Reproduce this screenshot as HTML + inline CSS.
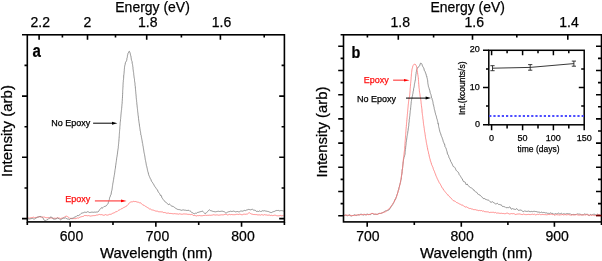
<!DOCTYPE html>
<html><head><meta charset="utf-8">
<style>
html,body{margin:0;padding:0;background:#fff;}
body{width:602px;height:261px;overflow:hidden;position:relative;}
svg{position:absolute;left:0;top:0;will-change:transform;}
text{font-family:"Liberation Sans",sans-serif;stroke:currentColor;stroke-width:0.25px;}
</style></head><body>
<svg width="602" height="261" viewBox="0 0 602 261">
<g fill="none" stroke-linejoin="round">
<!-- Panel a curves -->
<path d="M27.5 217.9L28.2 217.9L28.9 218.1L29.6 218.1L30.3 217.9L31.0 217.8L31.7 217.6L32.4 217.5L33.1 217.2L33.8 217.3L34.5 217.7L35.2 217.7L35.9 217.3L36.6 217.4L37.3 217.3L38.0 217.0L38.7 216.8L39.4 216.7L40.1 216.8L40.8 217.2L41.5 217.3L42.1 216.9L42.8 217.0L43.5 217.1L44.2 217.1L44.9 217.2L45.6 217.6L46.3 217.7L47.0 217.8L47.7 217.7L48.4 217.5L49.1 217.9L49.8 218.3L50.5 218.0L51.2 217.9L51.9 218.1L52.6 218.2L53.3 218.3L54.0 218.2L54.7 218.2L55.4 218.3L56.1 218.3L56.8 218.1L57.5 217.8L58.2 217.9L58.9 218.1L59.6 218.2L60.3 218.5L61.0 218.4L61.7 218.2L62.4 218.0L63.1 218.0L63.7 217.7L64.3 217.3L64.9 217.0L65.4 216.4L66.0 216.2L66.6 216.2L67.3 216.5L67.9 216.9L68.5 217.2L69.0 217.7L69.6 218.3L70.1 218.4L70.8 218.4L71.4 218.3L72.1 218.4L72.8 218.8L73.5 218.6L74.3 218.6L75.0 218.6L75.7 218.6L76.4 218.4L77.2 217.9L77.9 218.0L78.5 218.1L79.2 217.6L79.9 217.3L80.5 217.0L81.2 216.8L81.9 216.6L82.5 216.5L83.2 216.5L83.9 215.9L84.6 215.5L85.2 215.6L85.9 215.5L86.6 215.6L87.3 215.8L88.0 215.7L88.7 215.6L89.4 215.8L90.1 216.0L90.8 216.1L91.5 215.9L92.2 215.8L92.9 215.7L93.6 215.6L94.3 215.6L95.0 215.6L95.7 215.4L96.4 215.1L97.1 215.0L97.8 215.0L98.5 214.7L99.1 214.4L99.8 214.5L100.5 214.7L101.2 214.6L101.9 214.7L102.6 214.9L103.3 215.2L104.0 215.3L104.7 215.0L105.4 214.6L106.1 214.8L106.8 215.1L107.5 215.1L108.2 214.9L108.9 214.7L109.6 214.3L110.2 214.3L110.9 214.3L111.6 214.0L112.2 213.6L112.8 213.2L113.5 213.0L114.1 212.8L114.8 212.5L115.4 212.0L116.0 211.7L116.7 211.6L117.3 211.4L117.9 210.8L118.5 210.3L119.1 210.0L119.7 209.9L120.3 209.5L121.0 208.8L121.6 208.8L122.1 208.7L122.7 208.2L123.3 207.8L123.9 207.5L124.6 207.2L125.2 206.8L125.8 206.5L126.4 206.2L127.0 205.8L127.5 205.2L128.0 204.7L128.5 204.1L129.0 203.2L129.4 202.8L129.9 202.5L130.5 202.1L131.1 201.9L131.8 201.8L132.5 201.8L133.2 201.4L133.9 201.4L134.6 201.6L135.3 201.5L136.0 201.5L136.7 201.9L137.3 202.1L138.0 202.1L138.6 202.3L139.3 202.7L139.9 202.9L140.5 202.8L141.1 203.2L141.7 203.9L142.3 204.5L142.9 205.1L143.5 205.1L144.1 205.3L144.7 205.9L145.3 206.3L145.9 206.5L146.5 206.9L147.1 207.3L147.7 207.7L148.3 208.0L149.0 208.5L149.6 209.0L150.2 208.9L150.9 209.3L151.5 209.8L152.2 209.9L152.8 210.1L153.5 210.2L154.2 210.5L154.8 210.7L155.5 211.0L156.2 211.2L156.8 211.1L157.5 211.2L158.2 211.6L158.9 211.8L159.6 211.8L160.3 211.8L161.0 211.9L161.7 211.9L162.4 211.9L163.0 212.4L163.7 212.6L164.4 212.5L165.1 212.6L165.8 212.8L166.5 213.2L167.2 213.2L167.9 213.1L168.6 213.1L169.3 213.4L170.0 213.7L170.7 213.4L171.4 213.5L172.1 213.7L172.8 213.7L173.5 213.8L174.2 213.7L174.9 213.6L175.6 213.8L176.3 213.9L177.0 213.8L177.7 214.0L178.4 214.2L179.1 213.9L179.8 213.8L180.5 214.0L181.2 214.2L181.9 214.2L182.6 214.2L183.3 214.0L184.0 213.8L184.7 214.0L185.4 214.0L186.1 214.2L186.8 214.0L187.5 214.3L188.2 214.5L188.9 214.2L189.6 214.4L190.2 214.6L190.9 214.6L191.6 214.4L192.3 214.5L192.9 215.3L193.6 215.5L194.3 215.5L194.9 215.4L195.6 215.7L196.3 216.0L197.0 215.7L197.7 215.6L198.4 215.7L199.1 215.6L199.8 215.5L200.5 215.7L201.2 215.7L201.9 215.8L202.6 215.7L203.3 215.5L204.0 215.5L204.7 215.4L205.4 215.2L206.1 215.4L206.8 215.4L207.5 215.3L208.2 215.4L208.9 215.2L209.6 215.2L210.3 215.3L211.0 215.2L211.7 215.2L212.4 215.1L213.1 214.7L213.8 214.8L214.5 214.9L215.2 215.0L215.9 215.1L216.6 214.9L217.3 214.9L218.0 215.1L218.7 215.2L219.4 215.1L220.1 215.0L220.8 214.9L221.5 214.8L222.2 214.9L222.9 214.8L223.6 214.8L224.3 214.6L225.0 214.4L225.7 214.3L226.4 214.4L227.1 214.8L227.8 215.0L228.5 214.7L229.2 214.3L229.9 214.5L230.6 214.7L231.3 214.5L232.0 214.5L232.7 214.7L233.4 214.7L234.1 214.7L234.8 214.7L235.5 214.6L236.2 214.4L236.9 214.3L237.6 214.3L238.3 214.5L239.0 214.4L239.7 214.1L240.4 214.3L241.1 214.6L241.8 214.7L242.5 214.7L243.2 214.4L243.9 214.1L244.6 214.2L245.3 214.3L246.0 214.1L246.7 214.1L247.3 214.1L247.9 213.6L248.5 213.1L249.1 212.9L249.7 212.8L250.2 213.2L250.8 213.8L251.5 214.0L252.1 214.2L252.8 214.3L253.5 214.5L254.2 214.6L254.9 214.4L255.6 214.6L256.3 214.6L257.0 214.6L257.7 214.9L258.4 214.9L259.1 214.8L259.8 214.9L260.5 215.1L261.2 214.8L261.9 214.5L262.6 214.9L263.3 215.2L264.0 214.8L264.7 214.6L265.4 214.9L266.1 214.9L266.8 215.0L267.5 215.2L268.2 215.2L268.9 215.1L269.6 215.1L270.3 215.5L271.0 215.4L271.7 215.3L272.4 215.6L273.1 215.5L273.8 215.4L274.5 215.2L275.2 215.2L275.9 215.4L276.6 215.7L277.3 215.8L278.0 215.8L278.7 215.8L279.4 215.7L280.1 215.4L280.8 215.5L281.4 215.8L282.1 215.8L282.8 215.6L283.5 215.5" stroke="#f77" stroke-width="0.85"/>
<path d="M27.5 219.5L28.2 219.0L28.9 218.7L29.6 219.0L30.3 218.8L31.0 218.8L31.7 218.5L32.4 218.4L33.1 218.6L33.8 219.1L34.5 219.2L35.2 218.4L35.8 218.1L36.5 217.8L37.2 217.3L37.9 217.0L38.6 217.0L39.2 216.7L39.8 216.6L40.4 216.5L41.0 216.3L41.6 216.9L42.1 217.4L42.6 217.7L43.1 218.2L43.6 219.1L44.1 220.1L44.6 220.5L45.1 220.4L45.7 220.6L46.3 220.3L46.9 219.7L47.5 219.6L48.1 219.3L48.7 218.6L49.4 218.2L50.0 217.3L50.6 217.1L51.2 217.4L51.8 217.2L52.5 217.8L53.1 218.8L53.7 219.1L54.3 219.1L54.9 219.2L55.5 219.0L56.1 218.8L56.7 218.5L57.3 218.0L57.9 218.1L58.5 218.5L59.1 218.7L59.7 219.3L60.3 219.8L60.9 219.6L61.6 219.1L62.2 218.9L62.9 218.2L63.6 218.0L64.3 218.3L64.9 217.8L65.6 217.9L66.2 218.3L66.9 218.8L67.5 219.0L68.2 218.9L68.8 219.3L69.5 219.6L70.2 218.9L70.8 218.4L71.5 218.6L72.2 218.3L72.8 218.2L73.5 217.9L74.1 217.4L74.8 217.1L75.4 216.9L76.0 216.8L76.6 216.1L77.2 215.5L77.9 215.6L78.5 215.6L79.1 215.1L79.7 214.8L80.3 214.4L80.9 213.7L81.6 213.2L82.2 212.9L82.8 213.0L83.5 212.7L84.2 212.2L84.9 212.3L85.6 212.3L86.3 212.4L87.0 212.1L87.6 211.7L88.4 211.9L89.1 212.4L89.8 212.5L90.5 212.4L91.2 212.2L91.9 212.2L92.6 212.2L93.3 212.3L94.0 212.2L94.7 212.1L95.3 212.2L96.0 212.1L96.7 212.0L97.4 212.0L98.0 211.9L98.6 211.4L99.2 210.4L99.7 209.6L100.1 209.3L100.6 208.8L101.1 208.0L101.6 207.7L102.3 208.1L103.0 207.5L103.6 206.9L104.2 206.6L104.8 206.4L105.4 206.2L105.9 206.2L106.5 205.6L107.0 204.8L107.4 204.4L107.8 204.0L108.1 203.5L108.3 202.7L108.6 201.7L108.8 200.8L109.0 200.2L109.2 199.8L109.4 199.4L109.5 198.4L109.7 197.5L110.0 197.0L110.3 196.3L110.5 195.4L110.8 195.0L111.0 194.9L111.1 194.1L111.3 192.9L111.4 192.0L111.6 191.2L111.7 190.8L111.8 190.5L112.0 189.7L112.1 189.0L112.2 188.3L112.3 187.6L112.4 186.6L112.5 185.8L112.6 185.4L112.7 184.6L112.8 183.8L112.9 183.1L113.1 182.4L113.2 182.0L113.3 181.3L113.4 180.5L113.5 180.0L113.6 179.4L113.7 178.9L113.8 177.7L114.0 176.9L114.1 176.5L114.2 175.7L114.3 175.2L114.4 174.7L114.5 174.0L114.6 173.2L114.7 172.6L114.8 171.8L114.9 170.8L115.0 170.3L115.1 169.6L115.2 169.1L115.3 168.7L115.4 168.0L115.5 167.1L115.6 166.0L115.7 165.3L115.8 164.8L115.9 164.0L116.0 163.2L116.1 162.6L116.2 162.2L116.3 161.4L116.4 160.6L116.5 159.9L116.6 158.8L116.7 158.1L116.8 157.4L116.9 156.9L117.0 156.6L117.1 155.9L117.2 155.1L117.3 154.7L117.4 153.9L117.5 153.0L117.6 152.2L117.7 151.2L117.8 150.6L117.9 149.9L118.0 149.2L118.1 148.8L118.2 148.2L118.3 147.5L118.3 146.5L118.4 145.9L118.5 145.2L118.5 144.4L118.6 143.8L118.7 143.1L118.7 142.4L118.8 141.6L118.9 140.9L118.9 140.0L119.0 139.3L119.0 138.7L119.1 138.3L119.1 138.0L119.2 136.8L119.2 135.9L119.3 135.5L119.3 134.6L119.4 134.0L119.4 133.4L119.5 132.3L119.5 131.6L119.6 131.2L119.6 130.6L119.7 129.7L119.7 129.1L119.8 128.7L119.8 127.7L119.9 126.8L119.9 126.3L120.0 125.6L120.0 125.2L120.1 124.6L120.1 123.5L120.2 122.6L120.3 122.1L120.3 121.9L120.4 121.2L120.5 120.1L120.5 119.5L120.6 118.8L120.7 118.4L120.7 117.6L120.8 116.7L120.9 116.1L120.9 115.4L121.0 114.4L121.1 113.9L121.1 113.4L121.2 112.4L121.3 111.6L121.4 110.8L121.4 110.3L121.5 109.9L121.6 109.3L121.6 108.6L121.7 107.9L121.8 107.0L121.8 106.3L121.9 105.7L121.9 104.9L122.0 104.2L122.1 103.7L122.1 103.0L122.2 102.0L122.2 101.4L122.3 101.1L122.3 100.2L122.3 99.1L122.4 98.5L122.4 98.0L122.5 97.0L122.5 96.2L122.5 96.0L122.6 95.1L122.6 94.4L122.6 94.0L122.7 92.9L122.7 92.2L122.7 91.3L122.7 90.4L122.8 90.3L122.8 89.6L122.8 88.9L122.9 88.3L122.9 87.5L123.0 86.8L123.0 85.5L123.0 84.7L123.1 84.5L123.1 83.7L123.2 82.7L123.2 82.3L123.3 81.7L123.3 80.6L123.4 79.9L123.5 79.7L123.5 79.0L123.6 78.3L123.6 78.0L123.7 77.1L123.7 76.0L123.8 75.0L123.9 74.5L123.9 74.2L124.0 73.6L124.1 72.8L124.1 72.0L124.2 71.2L124.3 70.5L124.3 69.7L124.4 68.8L124.5 67.9L124.5 67.3L124.6 66.7L124.7 66.0L124.8 65.6L124.9 65.0L125.0 64.8L125.2 64.3L125.3 63.0L125.6 62.3L125.9 61.9L126.3 61.0L126.6 60.5L126.8 59.8L126.9 58.4L127.0 58.0L127.2 57.7L127.3 57.2L127.4 56.4L127.5 55.3L127.7 55.0L127.8 54.3L128.0 53.4L128.3 53.0L128.7 52.2L129.0 51.4L129.3 51.3L129.6 51.9L129.9 52.5L130.2 53.3L130.4 54.3L130.6 55.3L130.7 55.8L130.9 55.9L131.0 56.8L131.1 57.6L131.2 58.2L131.3 59.0L131.4 59.8L131.6 60.4L131.7 60.8L131.9 61.2L132.1 61.7L132.2 63.1L132.3 63.8L132.4 64.1L132.6 64.7L132.7 65.6L132.8 66.6L132.9 67.0L133.0 67.7L133.0 68.7L133.1 69.4L133.2 69.9L133.3 70.8L133.4 71.7L133.5 72.1L133.6 72.6L133.7 73.3L133.7 74.2L133.8 74.9L133.9 75.6L134.0 76.5L134.1 77.2L134.2 77.9L134.3 78.4L134.4 78.6L134.5 79.4L134.5 80.5L134.6 81.2L134.7 81.9L134.8 82.4L134.9 83.0L135.0 83.6L135.0 84.6L135.1 85.5L135.2 85.8L135.3 86.3L135.3 87.0L135.4 88.2L135.5 89.0L135.5 89.3L135.6 90.2L135.7 91.3L135.7 91.9L135.8 92.5L135.8 93.2L135.9 93.9L136.0 94.5L136.0 95.0L136.1 95.8L136.2 96.7L136.2 97.5L136.3 97.8L136.3 98.2L136.4 99.4L136.5 100.0L136.6 100.6L136.6 101.4L136.7 102.2L136.8 102.6L136.8 103.2L136.9 104.2L137.0 105.1L137.1 105.7L137.1 106.1L137.2 106.9L137.3 107.7L137.3 108.2L137.4 108.5L137.5 109.4L137.6 110.1L137.6 110.7L137.7 111.6L137.8 112.5L137.9 113.0L138.0 113.7L138.0 114.3L138.1 114.9L138.2 115.7L138.3 116.1L138.4 117.1L138.4 118.0L138.5 118.4L138.6 119.1L138.7 120.0L138.8 120.8L138.9 121.4L139.0 122.3L139.1 122.9L139.2 123.3L139.3 124.0L139.4 125.0L139.5 125.9L139.6 126.7L139.7 127.2L139.8 127.6L139.9 128.5L140.0 129.1L140.1 129.8L140.2 130.7L140.3 131.1L140.5 131.7L140.6 132.4L140.7 133.4L140.8 134.6L140.9 135.0L141.1 135.2L141.2 135.5L141.3 136.3L141.4 137.3L141.6 137.8L141.7 138.6L141.8 139.2L141.9 139.7L142.1 140.7L142.2 141.2L142.3 142.1L142.4 143.2L142.6 143.4L142.7 143.7L142.8 144.7L142.9 145.7L143.0 146.0L143.2 146.7L143.3 147.6L143.4 148.3L143.5 149.1L143.7 149.9L143.8 150.8L143.9 151.6L144.0 152.1L144.1 152.8L144.3 153.6L144.4 154.2L144.5 154.4L144.6 155.2L144.8 156.1L144.9 156.9L145.0 157.6L145.1 158.1L145.2 158.8L145.3 159.7L145.5 160.4L145.6 160.7L145.7 161.4L145.8 162.1L146.0 162.8L146.1 163.5L146.2 164.2L146.4 165.3L146.5 165.8L146.7 166.2L146.8 166.9L147.0 167.7L147.1 168.2L147.3 168.7L147.4 169.6L147.6 170.5L147.7 171.2L147.9 171.7L148.1 172.2L148.3 173.0L148.5 174.1L148.7 174.7L148.9 175.2L149.1 175.9L149.3 176.3L149.6 176.8L149.9 177.6L150.2 178.3L150.5 179.0L150.8 179.3L151.1 180.1L151.5 181.3L151.8 181.6L152.2 182.0L152.6 182.7L152.9 183.4L153.3 183.7L153.7 184.4L154.0 185.2L154.4 185.7L154.7 186.4L155.1 186.7L155.5 187.3L155.9 188.1L156.2 188.6L156.6 188.9L157.0 189.6L157.4 189.9L157.8 190.8L158.2 191.8L158.5 192.2L158.9 192.9L159.3 193.3L159.7 193.7L160.1 194.7L160.4 195.5L160.8 195.4L161.1 195.3L161.5 196.1L161.8 197.5L162.2 198.2L162.6 198.5L163.0 199.3L163.4 199.7L163.9 200.2L164.3 201.0L164.8 201.6L165.3 202.0L165.8 202.2L166.4 202.7L166.9 203.1L167.5 203.6L168.1 204.5L168.7 204.5L169.3 204.0L170.0 204.4L170.6 205.2L171.2 205.8L171.9 206.3L172.5 206.3L173.1 206.3L173.7 207.0L174.3 207.3L174.9 207.7L175.5 208.2L176.2 208.5L176.8 209.0L177.4 209.3L178.1 209.6L178.7 209.5L179.4 209.6L180.0 209.9L180.7 210.0L181.4 210.3L182.1 210.2L182.8 209.9L183.5 209.9L184.2 210.0L184.9 210.3L185.6 210.2L186.3 210.4L187.0 210.6L187.7 210.4L188.4 210.3L189.1 210.5L189.7 211.1L190.4 211.1L191.0 211.5L191.7 212.5L192.3 212.7L192.9 212.9L193.6 213.5L194.2 213.9L194.9 213.4L195.5 213.2L196.2 213.3L196.9 213.1L197.6 212.4L198.3 212.3L199.0 212.3L199.6 211.9L200.3 211.7L201.0 211.6L201.6 211.4L202.2 211.0L202.8 211.3L203.4 212.1L203.9 212.6L204.5 213.2L205.0 213.7L205.6 213.3L206.1 213.2L206.6 212.6L207.2 212.0L207.7 211.4L208.3 210.7L208.9 210.2L209.5 209.8L210.1 210.3L210.7 210.7L211.4 210.8L212.1 211.0L212.8 211.4L213.4 211.5L214.1 211.4L214.8 211.8L215.5 211.8L216.2 211.6L216.9 211.6L217.5 211.4L218.2 211.2L218.9 211.4L219.6 211.5L220.3 211.4L221.0 211.3L221.7 211.2L222.3 211.2L223.0 211.4L223.7 211.6L224.4 211.8L225.0 212.4L225.7 212.9L226.4 212.9L227.1 212.4L227.7 212.1L228.4 211.8L229.1 211.6L229.8 211.5L230.4 211.2L231.1 211.5L231.8 211.4L232.5 211.4L233.2 211.3L233.8 211.0L234.5 211.4L235.2 211.9L235.9 211.7L236.6 211.6L237.3 211.5L238.0 211.5L238.7 211.9L239.4 211.8L240.1 211.4L240.7 211.0L241.4 211.0L242.1 211.2L242.8 211.1L243.5 210.8L244.2 210.4L244.9 210.5L245.6 210.6L246.3 210.1L247.0 210.1L247.7 209.7L248.3 209.4L249.0 209.6L249.7 209.6L250.4 209.8L251.1 209.8L251.8 209.3L252.5 209.3L253.1 209.8L253.8 210.2L254.5 210.2L255.1 210.2L255.8 210.8L256.5 211.4L257.1 211.5L257.8 211.2L258.5 211.5L259.2 211.2L259.9 210.8L260.6 211.5L261.3 211.4L262.0 211.0L262.7 210.7L263.4 210.9L264.1 210.8L264.7 210.7L265.4 211.0L266.1 211.0L266.8 211.3L267.5 211.4L268.2 211.4L268.9 211.8L269.6 212.1L270.2 212.3L270.9 212.6L271.6 212.5L272.2 212.1L272.9 211.9L273.6 211.6L274.2 211.5L274.9 211.2L275.5 210.8L276.2 210.7L276.9 210.3L277.6 210.5L278.2 210.5L278.9 210.4L279.6 210.9L280.3 210.7L281.0 210.6L281.7 210.6L282.4 210.7L283.1 210.9L283.8 211.2" stroke="#777" stroke-width="0.8"/>
<!-- Panel b curves -->
<path d="M343.5 215.2L344.2 215.2L344.9 215.3L345.6 215.2L346.3 215.5L347.0 215.6L347.7 215.8L348.4 215.5L349.1 214.5L349.8 215.0L350.5 216.0L351.2 216.1L351.9 215.8L352.6 215.5L353.3 215.5L354.0 215.0L354.7 214.7L355.4 215.2L356.1 215.2L356.8 215.5L357.5 215.2L358.2 214.5L358.9 215.1L359.6 215.0L360.3 214.3L361.0 214.1L361.7 214.2L362.4 214.9L363.1 215.2L363.8 214.9L364.5 214.6L365.2 214.7L365.9 214.8L366.6 214.3L367.3 214.1L368.0 214.3L368.7 214.7L369.3 214.5L370.0 214.1L370.7 214.6L371.4 214.1L372.1 213.2L372.8 213.7L373.5 214.2L374.2 214.2L374.9 214.3L375.5 214.3L376.2 214.3L376.9 214.3L377.6 214.2L378.3 213.8L379.0 213.2L379.7 213.4L380.4 213.4L381.0 213.3L381.7 213.2L382.4 212.7L383.1 212.5L383.7 212.3L384.4 211.5L385.0 211.0L385.6 210.9L386.2 210.8L386.8 210.7L387.4 210.6L388.0 210.3L388.5 210.1L389.0 209.9L389.5 208.8L390.0 208.4L390.4 208.2L390.8 207.1L391.2 206.3L391.6 206.1L392.0 205.5L392.4 204.9L392.8 204.4L393.2 203.7L393.5 202.9L393.9 202.2L394.2 201.5L394.5 201.0L394.8 200.0L395.1 199.3L395.4 199.5L395.7 198.9L396.0 197.9L396.3 197.2L396.5 196.4L396.8 195.3L397.0 194.8L397.2 194.3L397.4 194.0L397.6 193.2L397.8 192.5L398.0 191.6L398.2 190.5L398.4 190.2L398.6 190.1L398.8 189.2L398.9 187.7L399.1 187.3L399.3 187.2L399.5 186.1L399.6 185.1L399.8 184.5L400.0 184.2L400.1 183.9L400.3 182.8L400.5 182.5L400.6 182.2L400.7 180.8L400.9 180.3L401.0 179.8L401.1 179.5L401.2 179.1L401.3 177.7L401.4 176.6L401.5 175.8L401.6 175.2L401.7 174.8L401.8 174.0L401.9 173.6L402.0 173.0L402.1 171.9L402.1 171.4L402.2 170.2L402.3 169.0L402.4 169.1L402.5 168.6L402.6 167.8L402.7 167.2L402.7 166.3L402.8 165.5L402.9 164.6L403.0 163.4L403.1 163.4L403.1 163.0L403.2 161.7L403.3 161.7L403.4 161.5L403.5 160.3L403.6 159.1L403.8 158.6L403.9 157.8L404.1 157.3L404.3 156.9L404.5 156.1L404.6 155.6L404.8 155.1L404.9 154.7L405.0 154.2L405.1 152.5L405.2 151.7L405.2 151.1L405.3 149.8L405.4 149.6L405.5 149.1L405.6 148.1L405.6 147.9L405.7 147.1L405.8 145.9L405.9 145.5L405.9 145.4L406.0 144.7L406.1 143.2L406.1 142.2L406.2 141.9L406.3 141.9L406.4 141.5L406.5 140.5L406.6 139.9L406.7 138.9L406.8 138.0L406.9 137.6L407.0 136.5L407.2 135.6L407.3 135.4L407.4 134.4L407.5 133.8L407.6 133.6L407.7 132.9L407.8 131.8L407.9 130.9L408.1 130.8L408.1 130.3L408.2 129.0L408.3 128.1L408.4 128.1L408.5 127.3L408.6 126.3L408.7 126.3L408.8 125.5L408.8 124.1L408.9 123.1L409.0 122.3L409.1 122.3L409.2 121.7L409.2 120.3L409.3 119.4L409.4 119.0L409.5 118.8L409.5 117.9L409.6 117.2L409.7 116.5L409.8 115.7L409.9 115.3L409.9 114.7L410.0 113.7L410.1 112.8L410.2 112.4L410.2 111.4L410.3 110.6L410.4 110.4L410.5 109.9L410.6 109.1L410.6 108.0L410.7 107.4L410.8 106.6L410.8 105.8L410.9 105.4L411.0 104.8L411.1 103.7L411.2 102.9L411.2 101.9L411.3 101.5L411.4 101.2L411.5 100.4L411.6 99.5L411.8 98.8L411.9 98.5L412.0 98.1L412.2 96.9L412.3 96.2L412.5 95.8L412.6 94.7L412.7 94.2L412.9 93.6L413.0 92.7L413.1 91.9L413.2 91.4L413.4 90.9L413.5 90.1L413.6 89.1L413.7 88.3L413.8 88.0L413.9 87.8L414.1 87.0L414.2 86.4L414.3 85.7L414.4 84.3L414.5 83.8L414.7 83.1L414.8 82.4L414.9 82.3L415.0 81.4L415.1 80.4L415.3 80.4L415.4 79.8L415.5 78.5L415.5 78.0L415.6 77.2L415.7 76.3L415.8 75.7L415.9 74.4L416.0 74.0L416.1 73.6L416.2 72.2L416.3 72.0L416.4 71.6L416.5 70.4L416.7 69.8L416.9 69.2L417.3 68.3L417.7 67.6L418.1 67.0L418.5 67.0L418.9 66.7L419.3 66.1L419.6 65.7L419.9 65.0L420.2 63.9L420.6 63.1L421.0 63.2L421.4 63.4L421.7 63.7L422.0 64.4L422.2 65.2L422.5 66.0L422.8 66.6L423.1 67.0L423.4 67.5L423.7 67.9L424.0 68.9L424.2 70.0L424.5 70.8L424.8 71.2L425.0 71.4L425.3 72.2L425.5 73.2L425.8 73.3L426.0 74.0L426.3 75.3L426.5 76.2L426.6 76.4L426.8 76.2L426.9 77.4L427.1 78.0L427.2 78.3L427.3 79.1L427.5 79.8L427.6 80.2L427.7 81.1L427.8 82.6L427.9 83.5L428.0 84.0L428.1 84.5L428.3 85.5L428.4 86.4L428.5 87.0L428.7 87.1L428.9 87.6L429.1 88.4L429.3 89.0L429.5 90.1L429.7 90.3L429.9 91.0L430.1 92.3L430.3 93.1L430.5 93.6L430.7 93.9L430.8 94.2L431.0 94.8L431.2 95.7L431.4 97.0L431.6 97.8L431.8 98.1L432.0 98.4L432.1 99.2L432.3 100.1L432.5 100.1L432.6 100.4L432.8 101.5L433.0 102.4L433.1 103.6L433.3 104.6L433.4 104.5L433.6 105.1L433.8 106.5L433.9 107.0L434.1 107.5L434.2 108.5L434.4 109.4L434.5 110.1L434.7 110.3L434.9 111.0L435.0 111.8L435.2 112.6L435.4 113.2L435.6 114.2L435.7 114.8L435.9 115.1L436.1 115.6L436.3 116.2L436.5 117.1L436.6 117.8L436.8 118.7L437.0 119.2L437.2 119.4L437.4 120.5L437.5 121.3L437.7 121.5L437.9 122.6L438.0 123.7L438.2 123.3L438.3 123.7L438.5 125.3L438.6 126.3L438.7 126.7L438.9 127.6L439.0 128.2L439.2 128.4L439.3 129.3L439.5 130.0L439.7 130.9L439.9 131.8L440.1 132.3L440.3 133.0L440.5 133.5L440.8 133.7L441.0 135.1L441.3 135.8L441.5 136.3L441.7 136.8L441.9 137.1L442.2 137.9L442.4 138.6L442.6 139.2L442.9 139.9L443.1 140.8L443.3 141.8L443.6 142.3L443.8 142.8L444.0 143.7L444.3 143.9L444.5 143.8L444.8 145.2L445.0 146.7L445.2 146.9L445.5 147.3L445.7 147.7L445.9 147.9L446.2 148.9L446.4 149.5L446.6 150.3L446.8 151.2L447.1 151.7L447.3 153.1L447.5 154.2L447.8 154.3L448.0 154.7L448.2 155.2L448.5 155.4L448.7 156.4L449.0 157.6L449.2 158.0L449.5 158.4L449.8 159.2L450.0 159.4L450.3 159.9L450.6 161.3L451.0 161.9L451.3 162.3L451.6 163.2L452.0 163.4L452.3 164.2L452.7 165.4L453.0 166.1L453.4 166.6L453.8 166.7L454.1 166.7L454.5 167.2L454.9 167.7L455.3 168.3L455.7 169.4L456.2 170.5L456.6 170.7L457.0 171.1L457.4 171.5L457.7 171.7L458.1 172.4L458.5 172.6L458.9 173.5L459.2 174.6L459.6 175.1L460.0 175.5L460.3 175.9L460.7 176.6L461.1 177.3L461.5 178.0L461.8 178.4L462.3 179.0L462.7 180.0L463.1 180.9L463.5 181.6L464.0 181.8L464.4 181.9L464.9 181.8L465.4 182.5L465.8 183.9L466.3 184.9L466.8 184.3L467.3 184.1L467.8 185.2L468.4 185.6L468.9 186.2L469.4 186.9L470.0 187.2L470.5 187.6L471.1 187.7L471.6 187.9L472.2 188.5L472.8 189.4L473.3 189.7L473.9 189.8L474.4 190.9L475.0 191.3L475.6 191.8L476.1 192.0L476.7 192.3L477.3 193.2L477.8 194.1L478.4 194.4L478.9 194.6L479.5 194.9L480.0 194.9L480.6 195.8L481.1 196.4L481.7 196.8L482.3 197.2L482.8 197.8L483.4 198.7L484.0 198.3L484.6 198.5L485.1 199.3L485.7 199.3L486.3 199.5L486.9 199.9L487.5 200.0L488.1 199.9L488.8 200.3L489.4 200.9L490.0 201.7L490.7 202.1L491.3 202.2L492.0 202.1L492.6 201.7L493.3 202.3L493.9 203.0L494.6 203.2L495.3 203.8L495.9 203.9L496.6 203.7L497.3 203.3L497.9 203.7L498.6 204.5L499.3 204.4L499.9 204.7L500.6 204.8L501.3 204.8L501.9 205.9L502.6 206.5L503.3 206.4L503.9 206.7L504.6 206.8L505.2 206.9L505.9 207.6L506.6 207.7L507.2 207.5L507.9 207.7L508.6 207.6L509.2 207.1L509.9 206.9L510.6 208.1L511.3 209.2L512.0 208.9L512.6 208.6L513.3 209.0L514.0 208.9L514.7 209.4L515.4 209.5L516.1 209.0L516.8 208.6L517.4 209.3L518.1 210.2L518.8 210.4L519.5 210.2L520.2 209.9L520.9 210.3L521.6 210.4L522.3 211.0L523.0 211.7L523.7 211.6L524.4 210.9L525.1 210.9L525.8 211.4L526.5 211.4L527.2 211.3L527.9 211.4L528.5 211.1L529.2 211.1L529.9 211.9L530.6 211.6L531.3 211.3L532.0 211.9L532.7 211.6L533.4 211.4L534.1 211.4L534.8 211.3L535.5 211.5L536.2 211.5L536.9 211.8L537.6 212.0L538.3 212.2L539.0 211.7L539.7 212.2L540.4 212.9L541.1 212.2L541.8 212.1L542.5 212.6L543.2 212.5L543.9 212.4L544.6 212.6L545.3 212.9L546.0 212.9L546.7 212.9L547.4 213.3L548.0 213.1L548.7 213.4L549.4 213.5L550.1 212.9L550.8 213.0L551.5 213.4L552.2 213.4L552.9 213.4L553.6 214.1L554.3 214.2L555.0 213.7L555.7 213.6L556.4 213.9L557.1 214.0L557.8 213.4L558.5 213.1L559.2 213.5L559.9 214.1L560.6 213.6L561.3 213.2L562.0 213.8L562.7 214.3L563.4 213.8L564.1 213.5L564.8 214.1L565.5 214.1L566.2 213.7L566.9 213.8L567.6 213.6L568.3 213.7L569.0 214.2L569.7 213.8L570.4 213.8L571.1 214.5L571.8 214.6L572.5 214.6L573.2 214.4L573.9 214.5L574.6 214.5L575.3 214.6L576.0 214.7L576.7 214.0L577.4 213.9L578.1 214.0L578.8 214.2L579.5 214.1L580.2 214.2L580.9 214.6L581.6 214.9L582.3 214.7L583.0 214.8L583.7 214.6L584.4 214.0L585.1 214.0L585.8 214.5L586.5 214.4L587.2 213.9L587.9 214.7L588.6 215.5L589.3 215.6L590.0 214.7L590.7 214.3L591.4 215.0L592.1 215.0L592.8 214.4L593.5 214.3L594.2 214.3L594.9 214.1L595.6 215.1L596.3 215.7L597.0 214.7L597.7 214.1L598.4 214.7L599.1 214.9L599.8 215.0L600.5 215.0" stroke="#777" stroke-width="0.8"/>
<path d="M343.5 215.6L344.2 215.6L344.9 215.4L345.6 215.0L346.3 215.0L347.0 215.1L347.7 215.3L348.4 215.3L349.1 215.3L349.8 215.4L350.5 215.3L351.2 215.4L351.9 215.8L352.6 215.6L353.3 215.4L354.0 215.5L354.7 215.5L355.4 215.3L356.1 215.2L356.8 215.0L357.5 214.8L358.2 214.9L358.9 215.2L359.6 214.8L360.3 214.6L361.0 214.8L361.7 214.7L362.4 214.5L363.1 214.5L363.8 214.3L364.5 214.3L365.2 214.5L365.9 214.8L366.6 215.0L367.3 214.6L368.0 214.3L368.7 214.5L369.3 214.6L370.0 214.3L370.7 213.9L371.4 213.5L372.1 213.4L372.8 213.6L373.5 213.7L374.2 214.2L374.9 214.2L375.5 214.0L376.2 214.3L376.9 214.3L377.6 214.4L378.3 214.0L379.0 213.4L379.7 213.5L380.4 213.5L381.0 213.2L381.7 212.9L382.4 212.9L383.1 212.6L383.7 212.1L384.4 212.2L385.0 212.2L385.6 211.8L386.2 211.1L386.8 210.5L387.4 210.1L388.0 209.6L388.5 209.2L389.0 209.1L389.5 208.7L390.0 207.9L390.4 207.2L390.8 206.6L391.2 206.3L391.6 205.6L392.0 204.9L392.4 204.4L392.8 203.6L393.2 203.0L393.5 202.7L393.9 202.3L394.2 201.9L394.5 201.1L394.8 199.9L395.1 199.6L395.4 199.2L395.7 198.4L396.0 197.4L396.3 197.0L396.5 196.7L396.8 195.9L397.0 195.1L397.2 194.5L397.4 193.8L397.6 193.0L397.8 192.4L398.0 191.9L398.2 191.2L398.4 190.3L398.6 189.8L398.8 189.3L398.9 188.4L399.1 187.7L399.3 187.1L399.5 186.4L399.6 185.6L399.8 185.4L400.0 184.7L400.1 183.6L400.3 182.6L400.5 182.1L400.6 181.4L400.7 180.5L400.9 179.8L401.0 179.2L401.1 178.8L401.2 178.0L401.3 177.5L401.4 176.9L401.5 176.0L401.6 175.5L401.7 174.8L401.8 174.1L401.9 173.2L402.0 172.1L402.1 171.5L402.1 170.9L402.2 170.1L402.3 169.8L402.4 169.2L402.5 168.3L402.6 167.4L402.7 166.8L402.8 166.2L402.8 165.4L402.9 164.7L403.0 164.1L403.0 163.4L403.1 162.8L403.1 162.2L403.2 161.7L403.2 160.9L403.3 160.0L403.4 159.4L403.4 158.9L403.5 158.3L403.6 157.4L403.7 156.6L403.8 156.2L403.9 155.2L404.0 154.3L404.1 153.7L404.1 153.2L404.2 152.5L404.3 151.6L404.4 150.8L404.5 150.2L404.5 149.7L404.6 149.3L404.7 148.3L404.7 147.3L404.8 147.4L404.8 146.9L404.9 145.6L404.9 144.8L405.0 143.7L405.0 143.2L405.1 142.9L405.1 141.8L405.2 141.2L405.2 140.6L405.3 139.6L405.3 139.1L405.4 138.6L405.4 137.8L405.5 137.0L405.5 136.2L405.6 135.3L405.6 134.9L405.7 134.6L405.7 133.8L405.8 133.0L405.8 132.2L405.9 131.4L405.9 130.6L406.0 130.2L406.0 129.6L406.1 128.7L406.2 128.1L406.2 127.1L406.3 126.7L406.3 126.1L406.4 125.0L406.5 124.4L406.5 123.7L406.6 123.0L406.6 122.3L406.7 121.7L406.8 121.1L406.8 120.1L406.9 119.6L407.0 119.1L407.0 118.1L407.1 117.4L407.1 117.0L407.2 116.5L407.3 115.6L407.3 114.8L407.4 114.2L407.5 113.4L407.5 112.7L407.6 111.9L407.7 111.3L407.7 110.5L407.8 109.4L407.9 108.9L407.9 108.4L408.0 107.7L408.0 107.2L408.1 106.5L408.2 105.8L408.2 105.2L408.3 104.3L408.4 103.7L408.5 103.1L408.5 102.3L408.6 101.5L408.7 100.7L408.8 99.9L408.9 99.4L409.0 98.9L409.1 98.1L409.2 97.4L409.4 97.1L409.5 96.6L409.6 95.6L409.7 94.8L409.8 94.2L409.8 93.4L409.9 92.8L410.0 92.0L410.0 91.3L410.1 90.6L410.1 89.7L410.2 89.0L410.2 88.4L410.3 87.9L410.3 87.2L410.4 86.4L410.4 85.9L410.5 84.9L410.6 84.0L410.6 83.5L410.7 82.8L410.8 81.9L410.8 81.4L410.9 80.8L411.0 79.8L411.0 79.4L411.1 78.7L411.1 77.7L411.2 77.1L411.3 76.4L411.3 75.9L411.4 75.0L411.4 74.2L411.5 73.6L411.6 72.8L411.6 72.3L411.7 71.8L411.8 70.9L411.9 70.1L412.0 69.4L412.2 68.8L412.3 68.1L412.5 67.6L412.7 66.6L413.0 65.5L413.4 65.2L413.8 64.7L414.3 64.2L415.0 64.1L415.5 64.5L416.0 65.3L416.3 66.0L416.6 66.8L416.7 67.4L416.8 68.1L417.0 68.7L417.0 69.4L417.1 69.9L417.2 70.3L417.3 70.9L417.4 71.9L417.5 72.4L417.6 73.0L417.7 74.0L417.8 74.7L418.0 75.6L418.1 76.1L418.1 76.7L418.2 77.2L418.3 77.9L418.4 79.0L418.4 79.4L418.5 80.2L418.5 81.1L418.6 81.7L418.6 82.2L418.7 83.0L418.7 84.0L418.8 84.6L418.8 85.0L418.9 85.9L419.0 86.9L419.0 87.5L419.1 88.2L419.2 88.7L419.3 89.3L419.3 90.2L419.4 90.9L419.5 91.9L419.6 92.6L419.7 92.8L419.8 93.6L419.9 94.2L420.0 94.8L420.1 95.8L420.2 96.4L420.3 96.9L420.4 97.5L420.5 98.3L420.7 99.0L420.8 99.9L420.9 100.8L421.0 101.2L421.0 101.6L421.1 102.6L421.2 103.8L421.3 104.2L421.4 104.7L421.4 105.4L421.5 106.0L421.6 106.9L421.7 107.7L421.7 107.9L421.8 108.5L421.9 109.0L422.0 109.9L422.0 111.1L422.1 112.0L422.2 112.9L422.3 113.2L422.3 113.6L422.4 114.6L422.5 115.4L422.6 115.8L422.7 116.5L422.8 117.4L422.8 118.1L422.9 118.8L423.0 119.2L423.1 119.8L423.2 120.5L423.3 121.2L423.3 121.9L423.4 122.8L423.5 123.6L423.6 124.4L423.7 125.2L423.8 125.8L423.9 126.1L424.0 126.8L424.1 127.8L424.2 128.3L424.3 128.6L424.3 129.3L424.4 130.1L424.5 130.8L424.6 131.6L424.8 132.3L424.9 133.0L425.0 133.6L425.1 134.4L425.2 135.0L425.3 135.9L425.4 136.7L425.5 137.4L425.6 138.0L425.7 138.7L425.9 139.5L426.0 140.1L426.1 140.4L426.2 141.3L426.3 142.3L426.5 142.9L426.6 143.5L426.7 144.2L426.8 144.9L427.0 145.4L427.1 146.1L427.2 147.0L427.4 147.6L427.5 148.0L427.7 149.1L427.8 150.0L427.9 150.4L428.1 150.9L428.2 151.2L428.4 151.8L428.5 152.8L428.7 153.9L428.9 154.3L429.0 154.7L429.2 156.0L429.4 156.9L429.5 157.3L429.7 158.1L429.9 158.7L430.1 159.2L430.2 160.0L430.4 160.8L430.6 161.2L430.8 162.0L431.0 162.5L431.2 162.9L431.5 164.2L431.7 164.9L431.9 165.2L432.2 165.8L432.4 166.3L432.7 167.0L433.0 167.6L433.2 168.5L433.5 169.5L433.8 170.1L434.1 170.8L434.3 171.2L434.6 171.8L434.8 172.7L435.1 173.3L435.3 173.8L435.5 174.2L435.8 175.2L436.0 175.9L436.3 176.4L436.5 176.9L436.8 177.5L437.1 178.3L437.4 179.0L437.7 179.5L438.0 180.0L438.3 180.8L438.6 181.3L438.9 182.0L439.2 182.8L439.6 183.2L439.9 183.5L440.2 183.9L440.6 184.7L440.9 185.4L441.3 186.0L441.6 186.8L442.0 187.6L442.4 188.1L442.8 188.3L443.2 189.1L443.6 190.0L444.0 190.4L444.4 190.9L444.9 191.3L445.3 192.1L445.8 192.6L446.2 193.2L446.7 193.7L447.2 194.4L447.6 194.7L448.1 194.8L448.5 195.8L449.0 196.3L449.5 196.6L449.9 196.9L450.4 197.7L450.9 198.1L451.5 198.5L452.0 199.3L452.5 199.8L453.0 200.5L453.6 200.7L454.1 200.7L454.7 201.2L455.3 201.4L455.9 201.9L456.5 202.5L457.1 202.7L457.7 202.9L458.4 203.3L459.0 203.7L459.6 204.0L460.3 204.2L460.9 204.7L461.5 205.0L462.1 204.8L462.8 205.3L463.4 205.9L464.1 206.0L464.7 206.7L465.3 207.1L466.0 206.8L466.6 206.9L467.3 207.4L468.0 207.7L468.6 208.1L469.3 208.5L469.9 208.4L470.6 208.5L471.3 208.9L472.0 209.1L472.6 209.1L473.3 209.5L474.0 209.8L474.7 209.6L475.3 209.6L476.0 209.9L476.7 210.1L477.4 210.2L478.1 210.5L478.8 210.6L479.5 210.4L480.2 210.7L480.9 210.6L481.5 210.5L482.2 211.1L482.9 211.1L483.6 211.0L484.3 211.5L485.0 211.8L485.7 211.7L486.4 211.8L487.1 211.8L487.8 211.9L488.5 212.0L489.2 212.4L489.9 212.6L490.6 212.3L491.3 212.3L491.9 212.4L492.6 212.3L493.3 212.2L494.0 212.7L494.7 212.7L495.4 212.4L496.1 212.9L496.8 213.2L497.5 213.0L498.2 213.0L498.9 213.2L499.6 213.3L500.3 213.4L501.0 213.2L501.7 213.3L502.4 213.5L503.1 213.3L503.8 213.6L504.5 213.7L505.2 213.6L505.9 213.6L506.6 213.2L507.3 213.1L508.0 213.4L508.7 213.7L509.4 214.0L510.1 214.0L510.8 213.7L511.5 213.6L512.2 213.6L512.9 213.9L513.6 213.6L514.3 213.8L515.0 214.3L515.7 214.5L516.4 214.3L517.1 214.0L517.8 214.1L518.5 214.0L519.2 213.9L519.9 214.0L520.6 214.2L521.3 214.4L522.0 214.6L522.7 214.5L523.4 214.1L524.1 214.2L524.8 214.5L525.5 214.6L526.2 214.7L526.9 214.5L527.6 214.5L528.3 214.4L529.0 214.3L529.7 214.6L530.4 214.6L531.1 214.5L531.8 214.3L532.5 214.2L533.2 214.5L533.9 214.4L534.6 214.2L535.3 214.8L536.0 215.0L536.7 214.5L537.4 214.3L538.1 214.6L538.8 214.4L539.5 214.1L540.2 214.6L540.9 214.6L541.6 214.6L542.3 214.5L543.0 214.4L543.7 214.6L544.4 214.6L545.1 214.6L545.8 214.7L546.5 214.8L547.2 214.8L547.9 214.5L548.6 214.5L549.3 214.6L550.0 214.4L550.7 214.2L551.4 214.2L552.1 214.5L552.8 214.6L553.5 214.5L554.2 215.1L554.9 215.3L555.6 214.8L556.3 214.6L557.0 214.8L557.7 214.8L558.4 214.8L559.1 215.0L559.8 215.0L560.5 214.8L561.2 214.8L561.9 214.6L562.6 214.5L563.3 214.9L564.0 215.0L564.7 214.6L565.4 214.6L566.1 215.0L566.8 214.8L567.5 214.7L568.2 214.6L568.9 214.7L569.6 214.9L570.3 215.0L571.0 215.1L571.7 215.1L572.4 214.7L573.1 214.7L573.8 215.2L574.5 215.0L575.2 214.7L575.9 214.8L576.6 214.6L577.3 214.8L578.0 215.1L578.7 215.1L579.4 215.1L580.1 215.1L580.8 214.8L581.5 214.8L582.2 215.1L582.9 215.0L583.6 214.9L584.3 214.8L585.0 215.0L585.7 215.0L586.4 214.6L587.1 214.8L587.8 214.9L588.5 214.9L589.2 215.2L589.9 215.2L590.6 215.0L591.3 215.4L592.0 215.2L592.7 214.9L593.4 215.3L594.1 215.5L594.8 215.6L595.5 215.3L596.2 215.1L596.9 215.2L597.6 215.0L598.3 214.9L599.0 214.8L599.7 215.0L600.4 215.3" stroke="#f77" stroke-width="0.85"/>
</g>

<!-- Panel a frame -->
<g stroke="#000" stroke-width="1.6" fill="none" stroke-linecap="butt">
<rect x="27.3" y="34.8" width="257.1" height="187.1"/>
<!-- left ticks (outward) -->
<path d="M22 34.8H27.3M22 96.1H27.3M22 157.3H27.3M22 218.6H27.3M24.5 65.4H27.3M24.5 126.7H27.3M24.5 188H27.3"/>
<!-- right ticks (inward) -->
<path d="M279.2 96.1H284.4M279.2 157.3H284.4M279.2 218.6H284.4M281.6 65.4H284.4M281.6 126.7H284.4M281.6 188H284.4"/>
<!-- bottom ticks (outward) -->
<path d="M27.3 221.9V225M70.15 221.9V226.8M112.98 221.9V225M155.85 221.9V226.8M198.7 221.9V225M241.55 221.9V226.8M284.4 221.9V225"/>
<!-- top ticks (inward) -->
<path d="M39.1 34.8V39.8M87.5 34.8V39.8M146.7 34.8V39.8M220.4 34.8V39.8M62.4 34.8V37.6M115.5 34.8V37.6M181.4 34.8V37.6M264.2 34.8V37.6"/>
</g>

<!-- Panel b frame -->
<g stroke="#000" stroke-width="1.6" fill="none">
<rect x="343.5" y="34.8" width="258" height="187.1"/>
<path d="M601.5 221.9V225"/>
<path d="M338.2 46.3H343.5M338.2 70.5H343.5M338.2 94.7H343.5M338.2 118.9H343.5M338.2 143.1H343.5M338.2 167.3H343.5M338.2 191.5H343.5M338.2 215.7H343.5"/>
<path d="M340.6 34.8H343.5M340.6 58.4H343.5M340.6 82.6H343.5M340.6 106.8H343.5M340.6 131H343.5M340.6 155.2H343.5M340.6 179.4H343.5M340.6 203.6H343.5"/>
<path d="M596 46.3H601M596 70.5H601M596 94.7H601M596 118.9H601M596 143.1H601M596 167.3H601M596 191.5H601"/>
<path d="M596 215.6H601.5" stroke="#6a0000"/>
<path d="M598 58.4H601M598 82.6H601M598 106.8H601M598 131H601M598 155.2H601M598 179.4H601M598 203.6H601"/>
<path d="M367.2 221.9V226.8M461.3 221.9V226.8M554.4 221.9V226.8M414.3 221.9V225M507.9 221.9V225"/>
<path d="M398.3 34.8V39.8M472.5 34.8V39.8M567.8 34.8V39.8M367.4 34.8V37.6M433.6 34.8V37.6M516.8 34.8V37.6"/>
</g>

<!-- Inset -->
<g stroke="#000" stroke-width="1.5" fill="none">
<rect x="488.8" y="50.3" width="95.4" height="74.5" fill="#fff"/>
<path d="M483 50.3H488.8M483 87.5H488.8M483 124.8H488.8M486 68.9H488.8M486 106.1H488.8"/>
<path d="M578.8 87.5H584.2M581.2 68.9H584.2M581.2 106.1H584.2"/>
<path d="M491.6 124.8V130.2M522.6 124.8V130.2M553.4 124.8V130.2M584.2 124.8V130.2M507.1 124.8V128.4M538 124.8V128.4M568.8 124.8V128.4"/>
<path d="M491.6 50.3V55.2M522.6 50.3V55.2M553.4 50.3V55.2M507.1 50.3V53.2M538 50.3V53.2M568.8 50.3V53.2"/>
</g>
<line x1="489.2" y1="116" x2="584" y2="116" stroke="#4d4dff" stroke-width="1.8" stroke-dasharray="2.2 2"/>
<g stroke="#222" stroke-width="0.9" fill="none">
<path d="M492.5 68.2L530.2 67.4L573.9 63.6"/>
<path d="M492.5 65.7V70.7M490.4 65.7H494.6M490.4 70.7H494.6"/>
<path d="M530.2 64.6V70.2M528.1 64.6H532.3M528.1 70.2H532.3"/>
<path d="M573.9 61.1V66.2M571.8 61.1H576M571.8 66.2H576"/>
</g>

<!-- Arrows -->
<g stroke-width="1">
<line x1="93.1" y1="123.2" x2="113" y2="123.2" stroke="#000"/>
<path d="M117.4 123.2L112 121.7L112 124.7Z" fill="#000"/>
<line x1="94.9" y1="200.9" x2="122" y2="200.9" stroke="#f55" stroke-width="1.3"/>
<path d="M126.6 200.9L121 199.6L121 202.2Z" fill="#f00"/>
<line x1="393.1" y1="80.2" x2="405" y2="80.2" stroke="#f55" stroke-width="1.3"/>
<path d="M409.6 80.2L404 78.9L404 81.5Z" fill="#f00"/>
<line x1="406" y1="98.1" x2="426" y2="98.1" stroke="#000"/>
<path d="M431 98.1L425.6 96.6L425.6 99.6Z" fill="#000"/>
</g>

<!-- Texts -->
<g font-size="14.3">
<text x="115.3" y="11.8" textLength="74.5" lengthAdjust="spacingAndGlyphs">Energy (eV)</text>
<text x="430.5" y="11.8" textLength="74.5" lengthAdjust="spacingAndGlyphs">Energy (eV)</text>
<text x="100" y="257.5" textLength="112.5" lengthAdjust="spacingAndGlyphs">Wavelength (nm)</text>
<text x="420" y="257.5" textLength="112.5" lengthAdjust="spacingAndGlyphs">Wavelength (nm)</text>
<text transform="translate(12.1,177) rotate(-90)" textLength="92" lengthAdjust="spacingAndGlyphs">Intensity (arb)</text>
<text transform="translate(327,177.5) rotate(-90)" textLength="91" lengthAdjust="spacingAndGlyphs">Intensity (arb)</text>
</g>
<g font-size="14">
<text x="40.3" y="27" text-anchor="middle">2.2</text>
<text x="87.5" y="27" text-anchor="middle">2</text>
<text x="147.7" y="27" text-anchor="middle">1.8</text>
<text x="221.5" y="27" text-anchor="middle">1.6</text>
<text x="400.2" y="27" text-anchor="middle">1.8</text>
<text x="474.2" y="27" text-anchor="middle">1.6</text>
<text x="569" y="27" text-anchor="middle">1.4</text>
<text x="71.5" y="240.8" text-anchor="middle">600</text>
<text x="157.5" y="240.8" text-anchor="middle">700</text>
<text x="243" y="240.8" text-anchor="middle">800</text>
<text x="367.9" y="240.8" text-anchor="middle">700</text>
<text x="462.1" y="240.8" text-anchor="middle">800</text>
<text x="557.2" y="240.8" text-anchor="middle">900</text>
</g>
<text transform="translate(32.4,57.2) scale(0.79,1)" font-size="19" font-weight="bold">a</text>
<text transform="translate(351.6,57.7) scale(0.9,1)" font-size="16" font-weight="bold">b</text>
<g font-size="9">
<text x="51.2" y="125.9">No Epoxy</text>
<text x="65.3" y="202.4" style="fill:#f11;stroke:#f11">Epoxy</text>
<text x="363.8" y="83.1" style="fill:#f11;stroke:#f11">Epoxy</text>
<text x="356.9" y="101.6">No Epoxy</text>
<text x="479.8" y="52.3" text-anchor="end">20</text>
<text x="479.8" y="89.9" text-anchor="end">10</text>
<text x="479.9" y="127.2" text-anchor="end">0</text>
<text x="491.5" y="141" text-anchor="middle">0</text>
<text x="522.6" y="141" text-anchor="middle">50</text>
<text x="553.3" y="141" text-anchor="middle">100</text>
<text x="584.2" y="141" text-anchor="middle">150</text>
<text x="517.5" y="152" textLength="42" lengthAdjust="spacingAndGlyphs">time (days)</text>
<text transform="translate(465.2,115) rotate(-90)" textLength="53.5" lengthAdjust="spacingAndGlyphs">Int.(kcounts/s)</text>
</g>
</svg>
</body></html>
